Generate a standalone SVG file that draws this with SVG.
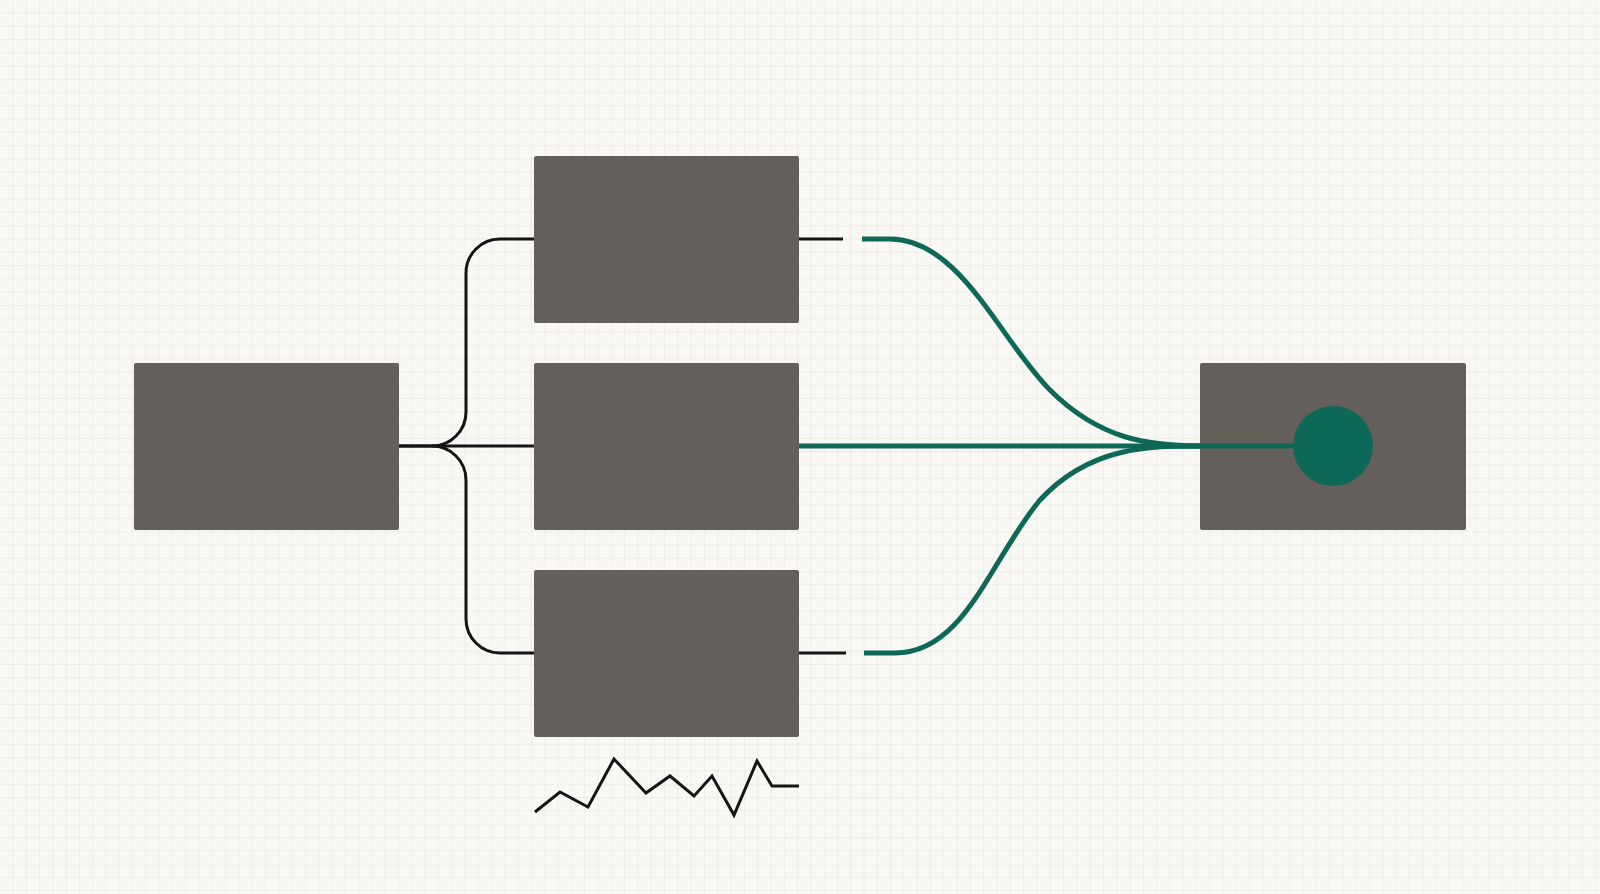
<svg xmlns="http://www.w3.org/2000/svg" width="1600" height="894" viewBox="0 0 1600 894">
<defs>
<pattern id="g" width="13.3" height="13.3" patternUnits="userSpaceOnUse"><path d="M13.3 0V13.3H0" fill="none" stroke="#e4e2dc" stroke-width="1"/></pattern>
<style>.box{fill:#655f5c;rx:2}.k{fill:none;stroke:#151515;stroke-width:3}.t{fill:none;stroke:#0e6857;stroke-width:5}</style>
</defs>
<rect width="1600" height="894" fill="#f9f8f4"/>
<rect width="1600" height="894" fill="url(#g)"/>
<g id="source"><rect class="box" x="134" y="363" width="265" height="167"/></g>
<g id="top"><rect class="box" x="534" y="156" width="265" height="167"/></g>
<g id="middle"><rect class="box" x="534" y="363" width="265" height="167"/></g>
<g id="bottom"><rect class="box" x="534" y="570" width="265" height="167"/></g>
<g id="target"><rect class="box" x="1200" y="363" width="266" height="167"/></g>
<g id="connectors">
<path class="k" d="M399 446H534"/>
<path class="k" d="M399 446H432a34 34 0 0 0 34-34V273a34 34 0 0 1 34-34H534"/>
<path class="k" d="M432 446a34 34 0 0 1 34 34V619a34 34 0 0 0 34 34H534"/>
<path class="k" d="M799 239H843M799 653H846"/>
<path class="t" d="M862 239H890C960 239 1000 340 1050 390C1100 440 1150 446 1200 446"/>
<path class="t" d="M864 653H895C965 653 990 560 1040 500C1090 446 1150 446 1200 446"/>
<path class="t" d="M799 446H1300"/>
<circle cx="1333" cy="446" r="40" fill="#0e6857"/>
</g>
<polyline class="k" points="535,812 560,792 588,807 614,759 646,793 670,776 694,796 712,776 734,815 757,761 772,786 799,786"/>
</svg>
